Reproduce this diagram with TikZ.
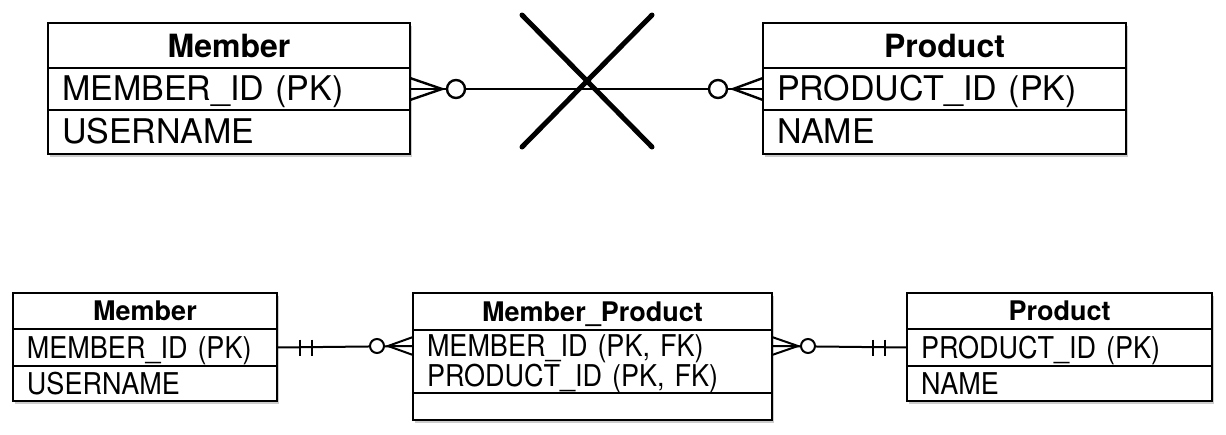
\documentclass[tikz,border=0pt]{standalone}
\usepackage{fontspec}
\setmainfont{TeX Gyre Heros}
\newfontfamily\narrowfont[FakeStretch=0.9]{TeX Gyre Heros}
\usepackage{tikz}
\usetikzlibrary{positioning,fit,calc,backgrounds}

\newcommand{\bigrow}{\fontsize{34}{36}\selectfont}
\newcommand{\bighead}{\fontsize{32}{34}\selectfont\bfseries}
\newcommand{\smallrow}{\narrowfont\fontsize{30}{27}\selectfont}
\newcommand{\smallhead}{\fontsize{27}{29}\selectfont\bfseries}

\begin{document}
\begin{tikzpicture}[
    x=1pt, y=-1pt,
    cell/.style={rectangle, draw=black, fill=white, line width=2.6pt, inner xsep=14pt, inner ysep=0pt, outer sep=0pt},
    bighd/.style={cell, align=center, font=\bighead, text height=23pt, text depth=0pt, minimum height=45pt},
    bigrw/.style={cell, align=left, font=\bigrow, text height=24.5pt, text depth=2pt},
    smallhd/.style={cell, line width=2.3pt, align=center, font=\smallhead, text height=19.4pt, text depth=0pt},
    smallrw/.style={cell, line width=2.3pt, align=left, font=\smallrow, text height=21.6pt, text depth=0pt},
    tblshadow/.style={inner sep=0pt, fill=black, opacity=0.2, xshift=2pt, yshift=-3pt},
    rel/.style={line width=2.4pt, draw=black},
    nocard/.style={rel, fill=white},
    crossout/.style={line width=5pt, line cap=round}
]
    \useasboundingbox (0,0) rectangle (1226,434);

    % Nodes (top)
    \node[bighd, text width=334pt, anchor=north west] (mhead) at (48,23) {Member};
    \node[bigrw, text width=334pt, minimum height=42pt, below=0pt of mhead] (mid) {MEMBER\_ID (PK)};
    \node[bigrw, text width=334pt, minimum height=44pt, below=0pt of mid] (mname) {USERNAME};

    \node[bighd, text width=335pt, anchor=north west] (phead) at (763,23) {Product};
    \node[bigrw, text width=335pt, minimum height=42pt, below=0pt of phead] (pid) {PRODUCT\_ID (PK)};
    \node[bigrw, text width=335pt, minimum height=44pt, below=0pt of pid] (pname) {NAME};

    % Nodes (bottom)
    \node[smallhd, text width=236pt, minimum height=36pt, anchor=north west] (bmhead) at (13,293) {Member};
    \node[smallrw, text width=236pt, minimum height=37pt, below=0pt of bmhead] (bmid) {MEMBER\_ID (PK)};
    \node[smallrw, text width=236pt, minimum height=35pt, below=0pt of bmid] (bmname) {USERNAME};

    \node[smallhd, text width=331pt, minimum height=37pt, anchor=north west] (mphead) at (413,293) {Member\_Product};
    \node[smallrw, text width=331pt, minimum height=63pt, text depth=31pt, below=0pt of mphead] (mpkeys) {MEMBER\_ID (PK, FK)\\PRODUCT\_ID (PK, FK)};
    \node[smallrw, text width=331pt, minimum height=27pt, text height=0pt, below=0pt of mpkeys] (mpextra) {};

    \node[smallhd, text width=277pt, minimum height=36pt, anchor=north west] (bphead) at (907,293) {Product};
    \node[smallrw, text width=277pt, minimum height=37pt, below=0pt of bphead] (bpid) {PRODUCT\_ID (PK)};
    \node[smallrw, text width=277pt, minimum height=35pt, below=0pt of bpid] (bpname) {NAME};

    % Shadows
    \begin{scope}[on background layer]
        \node[tblshadow, fit=(mhead)(mname)] (mshadow) {};
        \node[tblshadow, fit=(phead)(pname)] (pshadow) {};
        \node[tblshadow, fit=(bmhead)(bmname)] (bmshadow) {};
        \node[tblshadow, fit=(mphead)(mpextra)] (mpshadow) {};
        \node[tblshadow, fit=(bphead)(bpname)] (bpshadow) {};
    \end{scope}

    % Top relation (many to many, crossed out)
    \draw[rel] (mid.east) -- (pid.west);
    \draw[rel] ($(mid.east)+(0,-11)$) -- ($(mid.east)+(32,0)$) -- ($(mid.east)+(0,11)$);
    \draw[nocard] ($(mid.east)+(46,0)$) circle[radius=9pt];
    \draw[rel] ($(pid.west)+(0,-11)$) -- ($(pid.west)+(-30,0)$) -- ($(pid.west)+(0,11)$);
    \draw[nocard] ($(pid.west)+(-45,0)$) circle[radius=9pt];

    \coordinate (nogo) at (587,81);
    \draw[crossout] ($(nogo)+(-65,-66)$) -- ($(nogo)+(65,66)$);
    \draw[crossout] ($(nogo)+(65,-66)$) -- ($(nogo)+(-65,66)$);

    % Bottom relations
    \coordinate (mpin) at ($(mpkeys.north west)+(0,16)$);
    \coordinate (mpout) at ($(mpkeys.north east)+(0,16)$);

    \draw[rel, line width=2pt] (bmid.east) -- (mpin);
    \draw[rel, line width=2pt] ($(bmid.east)+(23,-8)$) -- ($(bmid.east)+(23,8)$);
    \draw[rel, line width=2pt] ($(bmid.east)+(35,-8)$) -- ($(bmid.east)+(35,8)$);
    \draw[rel, line width=2pt] ($(mpin)+(0,-9)$) -- ($(mpin)+(-25,0)$) -- ($(mpin)+(0,9)$);
    \draw[nocard, line width=2pt] ($(mpin)+(-36,0)$) circle[radius=7pt];

    \draw[rel, line width=2pt] (mpout) -- (bpid.west);
    \draw[rel, line width=2pt] ($(mpout)+(0,-9)$) -- ($(mpout)+(26,0)$) -- ($(mpout)+(0,9)$);
    \draw[nocard, line width=2pt] ($(mpout)+(36,0)$) circle[radius=7pt];
    \draw[rel, line width=2pt] ($(bpid.west)+(-34,-8)$) -- ($(bpid.west)+(-34,8)$);
    \draw[rel, line width=2pt] ($(bpid.west)+(-22,-8)$) -- ($(bpid.west)+(-22,8)$);

\end{tikzpicture}
\end{document}
